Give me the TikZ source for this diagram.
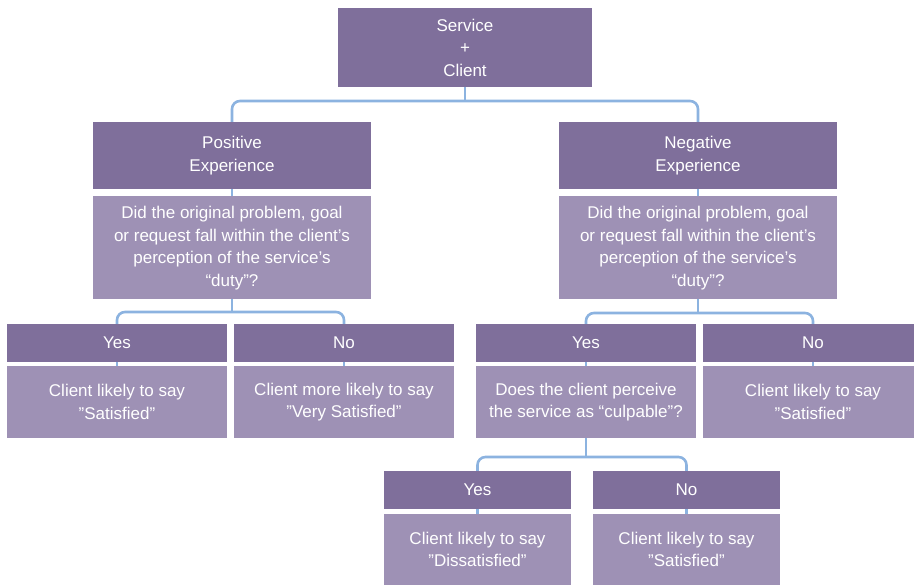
\documentclass[tikz,border=0pt]{standalone}
\usepackage{fontspec}
\setmainfont{Liberation Sans}
\usetikzlibrary{backgrounds}
\definecolor{hdrc}{HTML}{7F6F9B}
\definecolor{bodyc}{HTML}{9E91B5}
\definecolor{linec}{HTML}{8CB3E0}
\tikzset{
  box/.style={rectangle, inner sep=0pt, align=center, text=white,
    font=\fontsize{17}{22.5}\selectfont},
  hdr/.style={box, fill=hdrc},
  bodybox/.style={box, fill=bodyc},
  conn/.style={draw=linec, line width=2.6pt, rounded corners=8pt},
}
\begin{document}
\begin{tikzpicture}[x=1pt,y=1pt]
\useasboundingbox (0,0) rectangle (914,-585);
% top
\node[hdr, minimum width=254pt, minimum height=79pt] (top) at (465,-47.5) {Service\\+\\Client};
% level 1
\node[hdr, minimum width=278pt, minimum height=67pt] (pos) at (232,-155.5) {Positive\\Experience};
\node[bodybox, minimum width=278pt, minimum height=103pt] (posq) at (232,-248) {Did the original problem, goal\\or request fall within the client’s\\perception of the service’s\\“duty”?};
\node[hdr, minimum width=278pt, minimum height=67pt] (neg) at (698,-155.5) {Negative\\Experience};
\node[bodybox, minimum width=278pt, minimum height=103pt] (negq) at (698,-248) {Did the original problem, goal\\or request fall within the client’s\\perception of the service’s\\“duty”?};
% level 2 left
\node[hdr, minimum width=220pt, minimum height=38pt] (lyes) at (117,-343) {Yes};
\node[bodybox, minimum width=220pt, minimum height=72pt] (lyesq) at (117,-402) {Client likely to say\\”Satisfied”};
\node[hdr, minimum width=220pt, minimum height=38pt] (lno) at (344,-343) {No};
\node[bodybox, minimum width=220pt, minimum height=72pt] (lnoq) at (344,-402) {Client more likely to say\\”Very Satisfied”};
% level 2 right
\node[hdr, minimum width=220pt, minimum height=38pt] (ryes) at (586,-343) {Yes};
\node[bodybox, minimum width=220pt, minimum height=72pt] (ryesq) at (586,-402) {Does the client perceive\\the service as “culpable”?};
\node[hdr, minimum width=220pt, minimum height=38pt] (rno) at (813,-343) {No};
\node[bodybox, minimum width=220pt, minimum height=72pt] (rnoq) at (813,-402) {Client likely to say\\”Satisfied”};
% level 3
\node[hdr, minimum width=187pt, minimum height=38pt] (byes) at (477.5,-490) {Yes};
\node[bodybox, minimum width=187pt, minimum height=71pt] (byesq) at (477.5,-549.5) {Client likely to say\\”Dissatisfied”};
\node[hdr, minimum width=187pt, minimum height=38pt] (bno) at (686.5,-490) {No};
\node[bodybox, minimum width=187pt, minimum height=71pt] (bnoq) at (686.5,-549.5) {Client likely to say\\”Satisfied”};
% junction points
\coordinate (j1) at (465,-101);
\coordinate (j2) at (232,-312);
\coordinate (j3) at (698,-313);
\coordinate (j4) at (583,-457);
\begin{pgfonlayer}{background}
\draw[conn] (top.center) -- (j1);
\draw[conn] (pos.center) |- (j1) -| (neg.center);
\draw[conn] (pos.center) -- (posq.center);
\draw[conn] (neg.center) -- (negq.center);
\draw[conn] (posq.center) -- (j2);
\draw[conn] (lyes.center) |- (j2) -| (lno.center);
\draw[conn] (negq.center) -- (j3);
\draw[conn] (ryes.center) |- (j3) -| (rno.center);
\draw[conn] (lyes.center) -- (lyesq.center);
\draw[conn] (lno.center) -- (lnoq.center);
\draw[conn] (ryes.center) -- (ryesq.center);
\draw[conn] (rno.center) -- (rnoq.center);
\draw[conn] (ryesq.center) -- (ryesq.center |- j4);
\draw[conn] (byes.center) |- (j4) -| (bno.center);
\draw[conn] (byes.center) -- (byesq.center);
\draw[conn] (bno.center) -- (bnoq.center);
\end{pgfonlayer}
\end{tikzpicture}
\end{document}
